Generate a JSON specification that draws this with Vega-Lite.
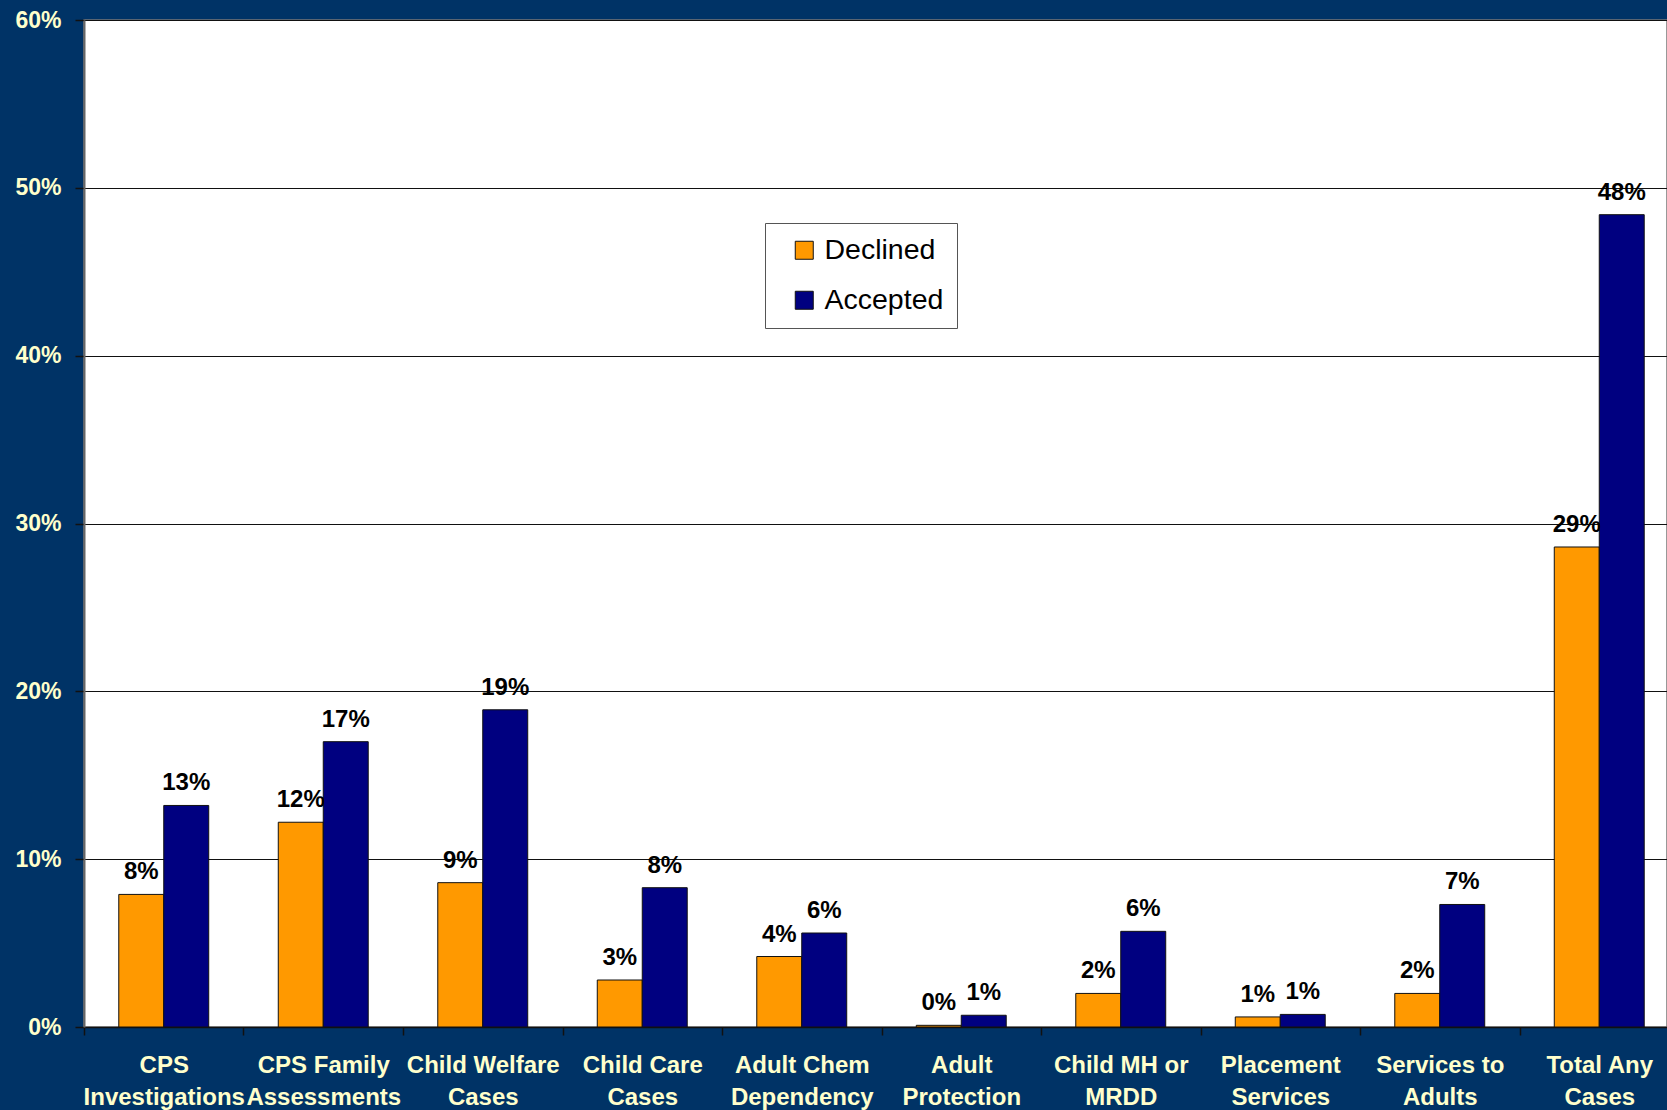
{
  "$schema": "https://vega.github.io/schema/vega-lite/v6.json",
  "autosize": {"type": "none"},
  "width": 1583,
  "height": 1007,
  "padding": {"left": 84, "top": 20, "right": 0, "bottom": 83},
  "background": "#003366",
  "config": {
    "font": "Liberation Sans",
    "view": {"fill": "white", "stroke": "#777777", "strokeWidth": 1.5}
  },
  "data": {
    "values": [
      {"category": "CPS Investigations", "series": "Declined", "value": 0.079},
      {"category": "CPS Investigations", "series": "Accepted", "value": 0.132},
      {"category": "CPS Family Assessments", "series": "Declined", "value": 0.122},
      {"category": "CPS Family Assessments", "series": "Accepted", "value": 0.170},
      {"category": "Child Welfare Cases", "series": "Declined", "value": 0.086},
      {"category": "Child Welfare Cases", "series": "Accepted", "value": 0.189},
      {"category": "Child Care Cases", "series": "Declined", "value": 0.028},
      {"category": "Child Care Cases", "series": "Accepted", "value": 0.083},
      {"category": "Adult Chem Dependency", "series": "Declined", "value": 0.042},
      {"category": "Adult Chem Dependency", "series": "Accepted", "value": 0.056},
      {"category": "Adult Protection", "series": "Declined", "value": 0.001},
      {"category": "Adult Protection", "series": "Accepted", "value": 0.007},
      {"category": "Child MH or MRDD", "series": "Declined", "value": 0.020},
      {"category": "Child MH or MRDD", "series": "Accepted", "value": 0.057},
      {"category": "Placement Services", "series": "Declined", "value": 0.006},
      {"category": "Placement Services", "series": "Accepted", "value": 0.0075},
      {"category": "Services to Adults", "series": "Declined", "value": 0.020},
      {"category": "Services to Adults", "series": "Accepted", "value": 0.073},
      {"category": "Total Any Cases", "series": "Declined", "value": 0.286},
      {"category": "Total Any Cases", "series": "Accepted", "value": 0.484}
    ]
  },
  "encoding": {
    "x": {
      "field": "category",
      "type": "nominal",
      "sort": null,
      "scale": {"range": [0, 1595], "paddingInner": 0.436, "paddingOuter": 0.218},
      "axis": {
        "title": null,
        "labelAngle": 0,
        "labelExpr": "[slice(datum.label, 0, lastindexof(datum.label, ' ')), slice(datum.label, lastindexof(datum.label, ' ') + 1)]",
        "labelFont": "Liberation Sans",
        "labelFontSize": 24,
        "labelFontWeight": "bold",
        "labelColor": "#FFFFCC",
        "labelLineHeight": 32,
        "labelBaseline": "top",
        "labelPadding": 18,
        "labelLimit": 400,
        "labelOverlap": false,
        "tickOffset": -79.75,
        "labelOffset": 79.75,
        "tickSize": 8,
        "tickColor": "#111111",
        "tickWidth": 1.5,
        "domainColor": "#111111",
        "domainWidth": 1.5
      }
    },
    "xOffset": {
      "field": "series",
      "type": "nominal",
      "sort": ["Declined", "Accepted"],
      "scale": {"paddingInner": 0, "paddingOuter": 0}
    },
    "y": {
      "field": "value",
      "type": "quantitative",
      "scale": {"domain": [0, 0.6], "nice": false},
      "axis": {
        "title": null,
        "values": [0, 0.1, 0.2, 0.3, 0.4, 0.5, 0.6],
        "format": ".0%",
        "labelFont": "Liberation Sans",
        "labelFontSize": 23,
        "labelFontWeight": "bold",
        "labelColor": "#FFFFCC",
        "labelPadding": 14,
        "tickSize": 9,
        "tickColor": "#111111",
        "tickWidth": 1.5,
        "domainColor": "#666666",
        "domainWidth": 2,
        "grid": true,
        "gridColor": "#111111",
        "gridWidth": 1
      }
    }
  },
  "layer": [
    {
      "mark": {"type": "bar", "stroke": "#111111", "strokeWidth": 1},
      "encoding": {
        "color": {
          "field": "series",
          "type": "nominal",
          "sort": ["Declined", "Accepted"],
          "scale": {"domain": ["Declined", "Accepted"], "range": ["#FF9900", "#000080"]},
          "legend": {
            "title": null,
            "orient": "none",
            "legendX": 681,
            "legendY": 203,
            "fillColor": "white",
            "strokeColor": "#555555",
            "padding": 13,
            "symbolOffset": 12,
            "symbolType": "square",
            "symbolSize": 324,
            "symbolStrokeColor": "#111111",
            "symbolStrokeWidth": 1,
            "labelFont": "Liberation Sans",
            "labelFontSize": 28.5,
            "labelColor": "#000000",
            "labelOffset": 6,
            "rowPadding": 21,
            "labelLimit": 300
          }
        }
      }
    },
    {
      "mark": {"type": "text", "font": "Liberation Sans", "fontSize": 24, "fontWeight": "bold", "color": "#000000", "baseline": "alphabetic", "dy": -15},
      "encoding": {
        "text": {"field": "value", "type": "quantitative", "format": ".0%"}
      }
    }
  ]
}
